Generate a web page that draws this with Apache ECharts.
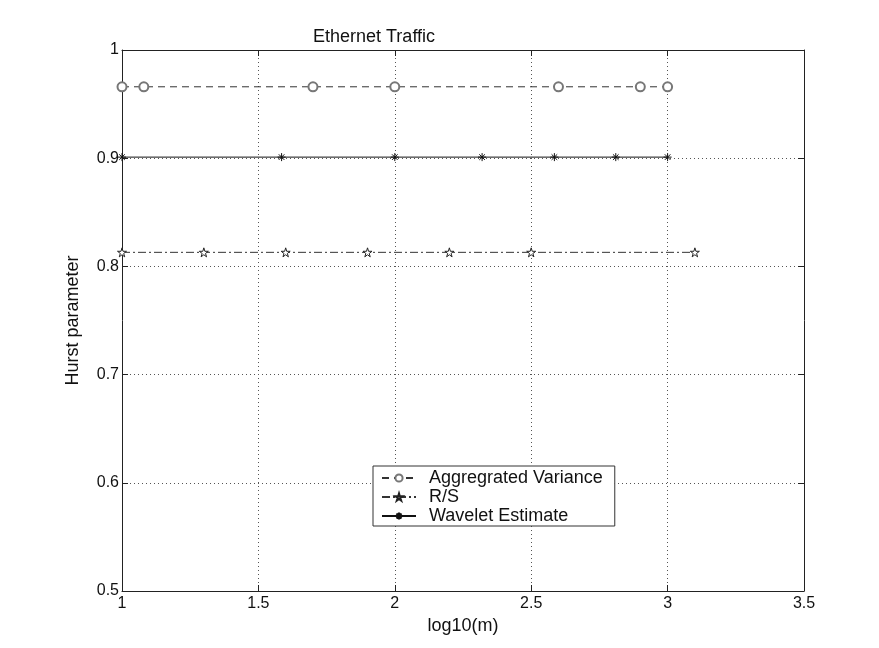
<!DOCTYPE html>
<html>
<head>
<meta charset="utf-8">
<script src="https://cdn.jsdelivr.net/npm/echarts@6/dist/echarts.min.js"></script>
<style>html,body{margin:0;padding:0;background:#fff;}#c{width:879px;height:648px;}</style>
</head>
<body>
<div id="c"></div>
<script>
var titleText = 'Ethernet Traffic';
var xName = 'log10(m)';
var yName = 'Hurst parameter';
var seriesNames = ['Aggregrated Variance', 'R/S', 'Wavelet Estimate'];
var avX = [1, 1.08, 1.7, 2, 2.6, 2.9, 3];
var avY = [0.966, 0.966, 0.966, 0.966, 0.966, 0.966, 0.966];
var rsX = [1, 1.3, 1.6, 1.9, 2.2, 2.5, 3.1];
var rsY = [0.813, 0.813, 0.813, 0.813, 0.813, 0.813, 0.813];
var wvX = [1, 1.585, 2, 2.32, 2.585, 2.81, 3];
var wvY = [0.901, 0.901, 0.901, 0.901, 0.901, 0.901, 0.901];
var xTicks = [1, 1.5, 2, 2.5, 3, 3.5];
var yTicks = [0.5, 0.6, 0.7, 0.8, 0.9, 1];

function pairs(xs, ys) { return xs.map(function (x, i) { return [x, ys[i]]; }); }

var FONT = 'Arial, "Liberation Sans", sans-serif';
var starPath = 'path://M50,0 L61,35 L98,35 L68,57 L79,91 L50,70 L21,91 L32,57 L2,35 L39,35 Z';
var asterPath = 'path://M0,50 L100,50 M50,0 L50,100 M15,15 L85,85 M85,15 L15,85';

var chart = echarts.init(document.getElementById('c'), null, {renderer: 'canvas'});
var axisLine = {show: true, lineStyle: {color: '#222', width: 1}};
var axisTick = {show: true, inside: true, length: 6, lineStyle: {color: '#222'}};
chart.setOption({
  animation: false,
  backgroundColor: '#fff',
  title: {
    text: titleText, left: 308, top: 23,
    textStyle: {fontFamily: FONT, fontSize: 18, fontWeight: 'normal', color: '#111'}
  },
  legend: {
    orient: 'vertical', left: 373, top: 466,
    data: seriesNames,
    backgroundColor: '#fff',
    borderColor: '#333', borderWidth: 1,
    padding: [3, 12, 1, 8],
    itemGap: 1, itemWidth: 34, itemHeight: 9,
    textStyle: {fontFamily: FONT, fontSize: 18, color: '#111', padding: [0, 0, 0, 8]}
  },
  grid: {left: 122, right: 75, top: 50, bottom: 57, show: false},
  xAxis: [{
    type: 'value', min: 1, max: 3.5, interval: 0.5,
    name: xName, nameLocation: 'middle', nameGap: 26,
    nameTextStyle: {fontFamily: FONT, fontSize: 18, color: '#111'},
    axisLabel: {fontFamily: FONT, fontSize: 16, color: '#111', margin: 5},
    splitLine: {show: true, lineStyle: {type: [1, 3], color: '#555'}},
    axisLine: axisLine, axisTick: axisTick
  }, {
    type: 'value', min: 1, max: 3.5, interval: 0.5, position: 'top',
    axisLabel: {show: false}, splitLine: {show: false},
    axisLine: axisLine, axisTick: axisTick
  }],
  yAxis: [{
    type: 'value', min: 0.5, max: 1, interval: 0.1,
    name: yName, nameLocation: 'middle', nameGap: 40,
    nameTextStyle: {fontFamily: FONT, fontSize: 18, color: '#111'},
    axisLabel: {fontFamily: FONT, fontSize: 16, color: '#111', margin: 3,
      formatter: function (v) { return String(Math.round(v * 10) / 10); }},
    splitLine: {show: true, lineStyle: {type: [1, 3], color: '#555'}},
    axisLine: axisLine, axisTick: axisTick
  }, {
    type: 'value', min: 0.5, max: 1, interval: 0.1, position: 'right',
    axisLabel: {show: false}, splitLine: {show: false},
    axisLine: axisLine, axisTick: axisTick
  }],
  series: [{
    name: seriesNames[0], type: 'line', data: pairs(avX, avY),
    symbol: 'emptyCircle', symbolSize: 9,
    lineStyle: {type: [7, 5], color: '#333', width: 1},
    itemStyle: {color: '#777', borderColor: '#777', borderWidth: 1}
  }, {
    name: seriesNames[1], type: 'line', data: pairs(rsX, rsY),
    symbol: starPath, symbolSize: 9,
    lineStyle: {type: [8, 3, 2, 3], color: '#333', width: 1},
    itemStyle: {color: '#fff', borderColor: '#222', borderWidth: 1}
  }, {
    name: seriesNames[2], type: 'line', data: pairs(wvX, wvY),
    symbol: asterPath, symbolSize: 8,
    lineStyle: {type: 'solid', color: '#111', width: 1},
    itemStyle: {color: 'none', borderColor: '#111', borderWidth: 1}
  }]
});
</script>
</body>
</html>
